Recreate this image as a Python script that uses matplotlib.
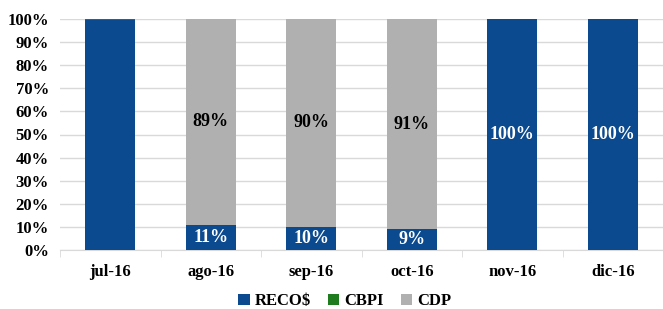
import matplotlib.pyplot as plt
import numpy as np

meses = ['jul-16', 'ago-16', 'sep-16', 'oct-16', 'nov-16', 'dic-16']
reco = [99.6, 11, 10, 9, 100, 100]
cbpi = [0.4, 0, 0, 0, 0, 0]
cdp = [0, 89, 90, 91, 0, 0]
etiq_reco = ['', '11%', '10%', '9%', '100%', '100%']
etiq_cdp = ['', '89%', '90%', '91%', '', '']

azul = '#0B4A8F'
verde = '#1E7B1E'
gris = '#B0B0B0'

plt.rcParams['font.family'] = ['Liberation Serif', 'DejaVu Serif']
plt.rcParams['font.weight'] = 'bold'

fig = plt.figure(figsize=(6.63, 3.09), dpi=100)
ax = fig.add_axes([60 / 663, 1 - 250 / 309, 603 / 663, 231 / 309])

x = np.arange(len(meses))
ax.bar(x, reco, width=0.5, color=azul, label='RECO$', zorder=3)
ax.bar(x, cbpi, width=0.5, bottom=reco, color=verde, label='CBPI', zorder=3)
base = np.array(reco) + np.array(cbpi)
ax.bar(x, cdp, width=0.5, bottom=base, color=gris, label='CDP', zorder=3)

for i in range(len(meses)):
    if etiq_reco[i]:
        ax.text(x[i], reco[i] / 2, etiq_reco[i], ha='center', va='center',
                color='white', fontsize=13, fontweight='bold', zorder=4)
    if etiq_cdp[i]:
        ax.text(x[i], base[i] + cdp[i] / 2, etiq_cdp[i], ha='center', va='center',
                color='black', fontsize=13, fontweight='bold', zorder=4)

ax.set_xlim(-0.5, len(meses) - 0.5)
ax.set_ylim(0, 100)
ax.set_yticks(np.arange(0, 101, 10))
ax.set_yticklabels([f'{v}%' for v in range(0, 101, 10)])
ax.yaxis.grid(True, color='#D9D9D9', linewidth=1, zorder=0)
ax.set_xticks(x)
ax.set_xticklabels(meses)
ax.set_xticks(np.arange(-0.5, len(meses), 1), minor=True)
ax.tick_params(axis='x', which='major', length=0, pad=10, labelsize=12)
ax.tick_params(axis='x', which='minor', length=5, color='#D9D9D9', direction='out')
ax.tick_params(axis='y', length=0, pad=8, labelsize=12)
for lado in ['top', 'right', 'left']:
    ax.spines[lado].set_visible(False)
ax.spines['bottom'].set_color('#D9D9D9')

fig.legend(loc='lower center', bbox_to_anchor=(0.52, -0.05), ncol=3, frameon=False,
           fontsize=12, handlelength=0.7, handleheight=0.7, handletextpad=0.3,
           columnspacing=1.0)

fig.savefig('out.png', dpi=100)
